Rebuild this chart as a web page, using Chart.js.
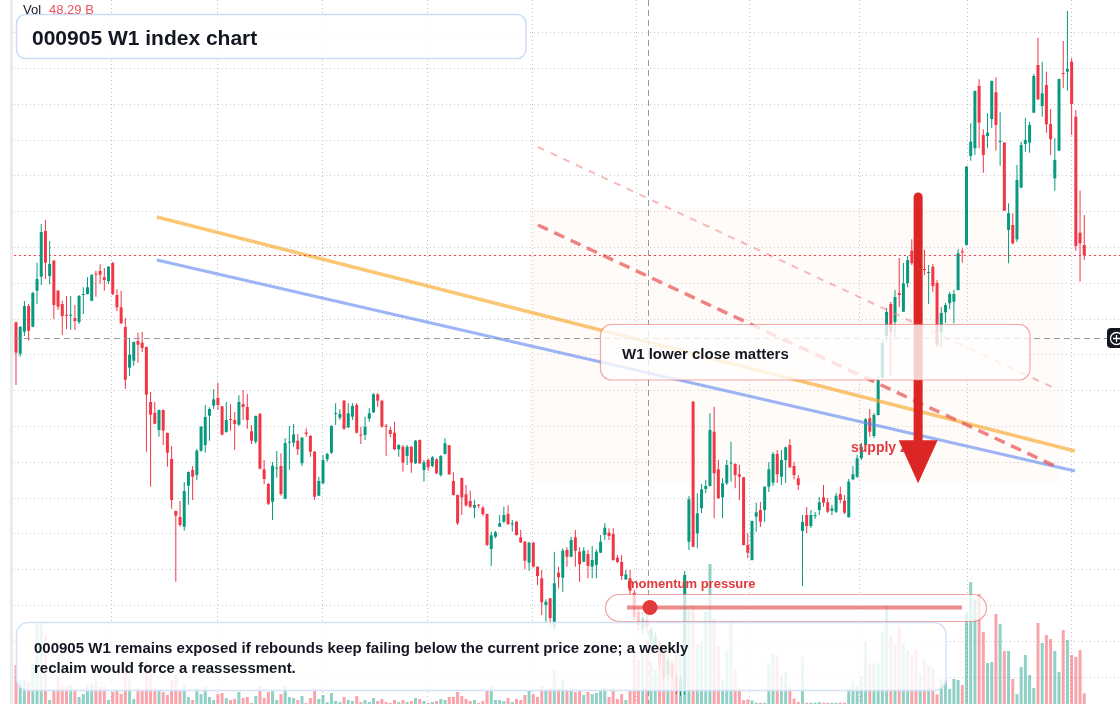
<!DOCTYPE html>
<html lang="en">
<head>
<meta charset="utf-8">
<title>000905 W1 index chart</title>
<script src="https://cdn.jsdelivr.net/npm/chart.js@4.4.1/dist/chart.umd.min.js"></script>
<style>
html,body{margin:0;padding:0;background:#ffffff;overflow:hidden;}
#chart{display:block;}
</style>
</head>
<body>
<canvas id="chart" width="1120" height="704"></canvas>
<script>
// ---------- DATA (weekly candles, index 0 = oldest week) ----------
const openP = [
5777,5463,5683,5940,5733,6093,6233,6690,6240,6393,
6093,5960,5850,5843,5820,5780,6050,6060,5993,6260,
6290,6227,6187,6370,6050,5927,5730,5323,5393,5590,
5573,5530,4980,4873,4700,4900,4670,4410,3890,3830,
3733,4143,4300,4250,4493,4550,4843,4943,5020,4937,
4680,4810,4800,4753,4960,4930,4687,4583,4860,4307,
4160,3983,4313,4340,4013,4573,4573,4593,4367,4675,
4640,4483,4043,4167,4407,4473,4860,4823,4993,4727,
4833,4950,4650,4650,4813,4877,5057,4993,4740,4700,
4673,4507,4533,4440,4533,4367,4600,4300,4400,4340,
4407,4250,4460,4547,4190,4050,4220,4057,3990,3923,
3950,3923,3860,3510,3633,3733,3783,3860,3757,3783,
3627,3583,3373,3573,3333,3217,2950,3017,2720,3273,
3223,3500,3433,3627,3483,3383,3460,3333,3350,3473,
3650,3673,3660,3423,3380,3207,3217,3070,2880,2710,
2800,2590,2540,2570,2470,2260,2370,2230,2090,2100,
3583,4983,3667,3917,4110,4140,4683,4307,4027,4167,
4365,4360,4257,4227,3550,3400,3833,3900,3900,4133,
4173,4460,4233,4400,4550,4340,4217,3690,3850,3740,
3840,3900,4027,3977,3893,3883,4060,3993,3827,4207,
4233,4417,4550,4817,4640,4850,5230,5640,5960,5780,
6070,5883,6167,6493,6380,5940,6305,6270,6333,6170,
5680,5877,5967,5983,6100,6480,6550,7440,7517,8140,
7650,7640,7810,8077,7580,7573,6700,6750,6607,7123,
7560,7573,7873,8350,7940,8150,7760,7217,7493,8265,
8283,8383,7833,6673,6550];
const highP = [
5783,5740,5990,5960,6083,6373,6760,6800,6590,6400,
6100,5993,6040,6040,5950,6050,6127,6227,6260,6293,
6357,6320,6340,6380,6107,6093,5820,5623,5585,5673,
5680,5535,5080,4980,4905,4905,4675,4540,3895,3990,
4180,4285,4340,4510,4740,4950,4927,5107,5173,4940,
4980,4960,4880,5047,5100,5060,4747,4845,4873,4400,
4170,4380,4490,4467,4617,4740,4760,4660,4630,4717,
4650,4490,4233,4450,4473,4750,4967,4907,5000,4967,
4967,4967,4733,4833,4917,5067,5067,5000,4760,4733,
4783,4557,4550,4550,4540,4600,4605,4400,4417,4440,
4417,4450,4617,4550,4277,4055,4225,4150,4093,4000,
3960,3940,3865,3683,3690,3850,3933,3947,3800,3790,
3700,3590,3580,3580,3335,3300,3007,3020,3483,3333,
3517,3527,3633,3700,3527,3527,3500,3540,3507,3650,
3767,3717,3717,3450,3450,3300,3300,3100,2940,2880,
2850,2740,2680,2600,2500,2450,2400,2280,2250,3290,
4040,4990,4067,4160,4200,4867,4933,4400,4217,4400,
4583,4367,4350,4230,3667,3795,3973,3980,4135,4380,
4480,4500,4500,4533,4607,4383,4250,3850,3930,3900,
3880,4030,4150,4020,3950,4070,4133,4050,4210,4340,
4450,4570,4820,4910,4870,5240,5600,5920,5980,6100,
6420,6370,6440,6607,6450,6220,6500,6350,6360,6200,
5930,5970,6083,6100,6507,6517,7340,7767,8095,8207,
7707,7867,8195,8227,7877,7580,6967,6867,7350,7583,
7823,7783,8260,8623,8383,8283,7910,7617,8215,8590,
8890,8417,7900,7093,6850];
const lowP = [
5150,5433,5640,5593,5728,5960,6150,6210,6157,5810,
5900,5650,5707,5700,5700,5760,5860,6055,5988,6033,
6163,6093,6160,6050,5890,5760,5110,5240,5343,5373,
5480,4483,4133,4758,4633,4550,4333,3913,3183,3733,
3693,3953,4000,4197,4483,4473,4593,4910,4900,4648,
4673,4693,4500,4743,4800,4713,4560,4563,4308,4157,
3950,3800,4223,4043,4008,4300,4533,4450,4340,4633,
4433,4000,4040,4160,4383,4460,4750,4800,4700,4720,
4800,4665,4560,4600,4783,4870,4933,4725,4440,4627,
4500,4433,4283,4350,4273,4360,4360,4183,4293,4327,
4257,4233,4455,4250,4045,3750,3850,3933,3917,3817,
3917,3840,3540,3340,3617,3730,3767,3750,3683,3645,
3570,3307,3293,3327,3150,2850,2783,2740,2700,3117,
3083,3333,3427,3333,3183,3378,3217,3217,3217,3470,
3600,3600,3393,3367,3200,3200,3060,2800,2700,2660,
2670,2550,2500,2320,2180,2210,2160,2060,2040,2050,
3500,3525,3517,3870,4067,4135,3817,4010,3817,4150,
4183,4117,4000,3545,3417,3395,3683,3730,3783,4080,
4140,4170,4150,4170,4320,4207,4100,3140,3670,3720,
3810,3850,3933,3870,3850,3870,3967,3860,3825,4200,
4220,4400,4545,4633,4620,4845,5200,5580,5250,5630,
5930,5880,6127,6350,5950,5900,6250,5960,6083,5530,
5530,5770,5907,5767,6095,6373,6545,7393,7450,7517,
7273,7517,7723,7493,7343,6890,6367,6557,6583,7120,
7483,7473,7870,8000,7833,7673,7450,7093,7490,8117,
8093,7650,6493,6183,6400];
const closeP = [
5473,5730,5940,5693,6070,6210,6680,6373,6360,5950,
5933,5840,5843,5850,5790,6040,6060,6127,6250,6253,
6253,6200,6333,6060,5927,5767,5203,5453,5580,5553,
5520,5053,4853,4763,4900,4693,4473,4000,3843,3750,
4090,4280,4233,4493,4733,4830,4910,5007,4950,4653,
4800,4800,4760,4980,4930,4800,4593,4840,4313,4210,
3963,4343,4323,4060,4570,4580,4657,4507,4623,4660,
4483,4033,4190,4400,4460,4740,4867,4860,4713,4867,
4940,4673,4643,4733,4867,5057,4993,4733,4733,4660,
4507,4550,4373,4533,4373,4593,4367,4377,4327,4427,
4267,4440,4567,4257,4050,3767,4027,3947,3933,3950,
3943,3860,3550,3647,3677,3767,3850,3760,3763,3650,
3577,3393,3573,3333,3240,2977,2983,2820,3167,3227,
3493,3433,3600,3493,3357,3493,3340,3400,3483,3583,
3723,3640,3400,3380,3240,3257,3093,2830,2750,2820,
2730,2710,2630,2370,2230,2400,2230,2110,2200,3250,
4007,3533,3867,4107,4140,4700,4267,4017,4167,4350,
4370,4250,4233,3550,3473,3790,3877,3783,4133,4307,
4460,4257,4400,4527,4327,4250,4150,3780,3740,3850,
3845,3977,3973,3883,3917,4043,4000,3873,4183,4257,
4417,4533,4807,4683,4850,5200,5570,5880,5680,6030,
6050,6167,6400,6367,6000,6180,6300,6275,6140,5550,
5870,5950,6060,6060,6467,6475,7333,7583,8090,7773,
7450,7673,8190,7750,7585,6893,6867,6567,7200,7550,
7600,7750,8240,8007,8067,7757,7607,7400,8210,8260,
8310,7960,6540,6567,6447];
// weekly volume, billions
const volumeB = [
29.4,18.1,18.1,16.6,30.2,60.4,61.1,52.1,3.0,11.3,
21.1,14.3,13.6,14.3,11.3,5.3,7.5,14.3,15.1,17.4,
12.8,12.8,3.0,9.1,10.6,7.5,27.2,17.4,3.8,12.1,
10.6,33.2,27.2,12.1,10.6,9.1,6.8,18.1,21.9,10.6,
14.3,5.3,3.0,12.1,7.5,13.6,5.3,3.0,7.5,8.3,
4.5,3.0,3.8,9.1,4.5,5.3,0.8,6.0,13.6,4.5,
9.1,10.6,3.0,7.5,13.6,5.3,4.5,3.0,6.0,0.8,
4.5,12.1,3.8,6.8,1.5,8.3,2.3,1.5,5.3,3.0,
2.3,6.0,1.5,3.0,1.5,4.5,2.3,3.8,1.5,0.8,
3.0,1.5,3.0,1.5,2.3,4.5,3.8,2.3,0.8,1.5,
2.3,3.8,3.0,5.3,5.3,9.1,6.0,3.8,2.3,3.0,
0.8,2.3,10.6,13.6,3.0,3.0,2.3,4.5,1.5,3.8,
3.0,6.8,10.6,7.5,5.3,13.6,10.6,12.1,25.7,12.1,
18.1,10.6,12.1,9.1,10.6,6.8,9.1,7.5,8.3,10.6,
12.1,5.3,12.1,3.8,7.5,3.0,10.6,40.7,33.2,37.0,
48.29,31.7,25.7,40.7,44.5,33.2,29.4,40.7,37.0,74.7,
70.9,74.7,45.3,47.5,69.4,105.6,64.1,43.8,18.1,40.0,
62.6,26.4,12.8,3.0,3.4,2.6,1.0,1.0,1.0,30.9,
37.7,36.4,21.5,23.8,12.9,4.1,1.5,35.5,1.0,1.0,
1.0,1.5,1.0,1.0,1.0,1.0,1.0,1.0,12.4,17.1,
13.6,20.4,47.5,30.6,30.6,30.6,54.8,74.8,52.1,45.0,
59.3,46.3,40.7,37.0,41.5,22.9,33.2,28.9,26.8,7.2,
19.0,17.7,11.3,18.9,18.1,14.3,69.4,92.0,78.5,83.0,
54.3,30.9,31.7,67.9,60.4,40.0,40.0,18.9,7.5,27.9,
37.0,21.9,12.1,61.1,46.0,52.1,49.0,40.0,24.1,55.8,
48.3,37.0,35.5,40.7,8.0];

// grid positions (week index of vertical lines, price levels of horizontal lines)
const gridWeeks = [22.8, 47.8, 72.9, 97.9, 122.8, 147.6, 174.4, 200.5, 226.2, 250.9];
const gridPrices = [8673, 8315, 7957, 7599, 7241, 6883, 6525, 6167, 5809, 5451, 5093, 4735, 4377, 4019, 3661, 3303, 2945, 2587, 2229];

// annotations in data space: [week index, price]
const trendLines = [
  {name: 'resistance', from: [33.5, 6830], to: [251.8, 4490]},
  {name: 'support',    from: [33.5, 6400], to: [251.8, 4290]},
  {name: 'projection', from: [124.1, 6750], to: [247.0, 4340]},
  {name: 'channel',    from: [124.1, 7530], to: [246.3, 5130]}
];
const zoneSpec = {i0: 121.9, i1: 249.0, pTop: 6920, pBottom: 4180};
const arrowSpec = {i: 214.5, pStart: 7030, pTip: 4167};
const crossIndex = 150;
const crossPrice = 5620;

const titleText = '000905 W1 index chart';
const noteLines = ['000905 W1 remains exposed if rebounds keep failing below the current price zone; a weekly', 'reclaim would force a reassessment.'];
const calloutText = 'W1 lower close matters';
const zoneLabel = 'supply zone';
const meterLabel = 'momentum pressure';

// ---------- STYLE ----------
const FONT = '"Liberation Sans", Arial, Helvetica, sans-serif';
const GREEN = '#089981', RED = '#f23645';
const GREEN_V = 'rgba(8,153,129,0.45)', RED_V = 'rgba(242,54,69,0.45)';
const GRID = 'rgba(140,140,140,0.5)';
const lineStyles = {
  resistance: {color: 'rgba(247,172,52,0.68)', width: 3.5, dash: []},
  support:    {color: 'rgba(96,136,240,0.62)', width: 3, dash: []},
  projection: {color: 'rgba(232,84,84,0.72)', width: 3.5, dash: [11, 7]},
  channel:    {color: 'rgba(240,130,130,0.55)', width: 2, dash: [7, 7]}
};

const N = openP.length;
const idx = Array.from({length: N}, (_, i) => i);
const up = idx.map(i => closeP[i] >= openP[i]);

function rrect(ctx, x, y, w, h, r) {
  ctx.beginPath();
  ctx.moveTo(x + r, y);
  ctx.lineTo(x + w - r, y);
  ctx.arcTo(x + w, y, x + w, y + r, r);
  ctx.lineTo(x + w, y + h - r);
  ctx.arcTo(x + w, y + h, x + w - r, y + h, r);
  ctx.lineTo(x + r, y + h);
  ctx.arcTo(x, y + h, x, y + h - r, r);
  ctx.lineTo(x, y + r);
  ctx.arcTo(x, y, x + r, y, r);
  ctx.closePath();
}

const overlay = {
  id: 'overlay',
  beforeDatasetsDraw(chart) {
    const ctx = chart.ctx;
    const X = v => chart.scales.x.getPixelForValue(v);
    const Y = v => chart.scales.y.getPixelForValue(v);
    const x0 = X(zoneSpec.i0), x1 = X(zoneSpec.i1), y0 = Y(zoneSpec.pTop), y1 = Y(zoneSpec.pBottom);
    ctx.save();
    rrect(ctx, x0, y0, x1 - x0, y1 - y0, 12);
    ctx.fillStyle = 'rgba(255,232,218,0.16)';
    ctx.fill();
    ctx.restore();
  },
  afterDatasetsDraw(chart) {
    const ctx = chart.ctx;
    const area = chart.chartArea;
    const X = v => chart.scales.x.getPixelForValue(v);
    const Y = v => chart.scales.y.getPixelForValue(v);
    ctx.save();

    // trend lines
    trendLines.forEach(t => {
      const s = lineStyles[t.name];
      ctx.beginPath();
      ctx.setLineDash(s.dash);
      ctx.strokeStyle = s.color;
      ctx.lineWidth = s.width;
      ctx.moveTo(X(t.from[0]), Y(t.from[1]));
      ctx.lineTo(X(t.to[0]), Y(t.to[1]));
      ctx.stroke();
    });

    // last price line
    const yLast = Y(closeP[N - 1]);
    ctx.beginPath();
    ctx.setLineDash([2, 3]);
    ctx.strokeStyle = RED;
    ctx.lineWidth = 1;
    ctx.moveTo(area.left, Math.round(yLast) + 0.5);
    ctx.lineTo(area.right, Math.round(yLast) + 0.5);
    ctx.stroke();

    // crosshair
    const cx = Math.round(X(crossIndex)) + 1.5, cy = Math.round(Y(crossPrice)) + 0.5;
    ctx.beginPath();
    ctx.setLineDash([6, 4]);
    ctx.strokeStyle = '#9598a1';
    ctx.lineWidth = 1;
    ctx.moveTo(area.left, cy); ctx.lineTo(1107, cy);
    ctx.moveTo(cx, area.top); ctx.lineTo(cx, area.bottom);
    ctx.stroke();
    ctx.setLineDash([]);

    // supply zone label
    ctx.fillStyle = '#e0393e';
    ctx.font = 'bold 14px ' + FONT;
    ctx.textBaseline = 'alphabetic';
    ctx.fillText(zoneLabel, 851, 452);

    // arrow
    const ax = X(arrowSpec.i), ayTop = Y(arrowSpec.pStart), ayTip = Y(arrowSpec.pTip);
    const headLen = 43, headHalf = 19.5;
    ctx.strokeStyle = '#dc2626';
    ctx.fillStyle = '#dc2626';
    ctx.lineWidth = 9;
    ctx.lineCap = 'round';
    ctx.beginPath();
    ctx.moveTo(ax, ayTop);
    ctx.lineTo(ax, ayTip - headLen + 4);
    ctx.stroke();
    ctx.lineCap = 'butt';
    ctx.beginPath();
    ctx.moveTo(ax - headHalf, ayTip - headLen);
    ctx.lineTo(ax + headHalf, ayTip - headLen);
    ctx.lineTo(ax, ayTip);
    ctx.closePath();
    ctx.fill();

    // callout box
    rrect(ctx, 600.5, 324.5, 429.5, 55.5, 11);
    ctx.fillStyle = 'rgba(255,255,255,0.78)';
    ctx.fill();
    ctx.strokeStyle = 'rgba(236,110,110,0.6)';
    ctx.lineWidth = 1.2;
    ctx.stroke();
    ctx.fillStyle = '#131722';
    ctx.font = 'bold 15px ' + FONT;
    ctx.fillText(calloutText, 622, 359);

    // momentum meter
    ctx.fillStyle = '#e0393e';
    ctx.font = 'bold 13px ' + FONT;
    ctx.fillText(meterLabel, 627, 587.5);
    rrect(ctx, 605.5, 594.5, 381, 27, 13.5);
    ctx.fillStyle = 'rgba(255,255,255,0.75)';
    ctx.fill();
    ctx.strokeStyle = 'rgba(232,100,100,0.6)';
    ctx.lineWidth = 1.2;
    ctx.stroke();
    ctx.beginPath();
    ctx.strokeStyle = 'rgba(228,70,70,0.62)';
    ctx.lineWidth = 4;
    ctx.moveTo(627, 607.5); ctx.lineTo(962, 607.5);
    ctx.stroke();
    ctx.beginPath();
    ctx.arc(650, 607.5, 7.5, 0, Math.PI * 2);
    ctx.fillStyle = '#e03a3a';
    ctx.fill();

    // note box
    rrect(ctx, 16.5, 622.5, 929.5, 68, 12);
    ctx.fillStyle = 'rgba(255,255,255,0.84)';
    ctx.fill();
    ctx.strokeStyle = '#d3e2f8';
    ctx.lineWidth = 1.5;
    ctx.stroke();
    ctx.fillStyle = '#131722';
    ctx.font = 'bold 15px ' + FONT;
    ctx.fillText(noteLines[0], 34, 653);
    ctx.fillText(noteLines[1], 34, 673);

    // title box
    rrect(ctx, 16.5, 14.5, 509.5, 44, 9);
    ctx.fillStyle = 'rgba(255,255,255,0.95)';
    ctx.fill();
    ctx.strokeStyle = '#cddcf6';
    ctx.lineWidth = 1.5;
    ctx.stroke();
    ctx.fillStyle = '#131722';
    ctx.font = 'bold 21px ' + FONT;
    ctx.fillText(titleText, 32, 44.5);

    // volume legend
    ctx.font = '13px ' + FONT;
    ctx.fillStyle = '#131722';
    ctx.fillText('Vol', 23, 13.5);
    ctx.fillStyle = up[crossIndex] ? GREEN : '#f0525c';
    ctx.fillText(volumeB[crossIndex].toFixed(2) + ' B', 49, 13.5);

    // crosshair price tag (cut by right edge)
    rrect(ctx, 1107, cy - 10.5, 24, 20, 4);
    ctx.fillStyle = '#131722';
    ctx.fill();
    ctx.beginPath();
    ctx.arc(1116.5, cy, 6, 0, Math.PI * 2);
    ctx.strokeStyle = '#ffffff';
    ctx.lineWidth = 1.3;
    ctx.stroke();
    ctx.beginPath();
    ctx.moveTo(1113, cy); ctx.lineTo(1120, cy);
    ctx.moveTo(1116.5, cy - 3.5); ctx.lineTo(1116.5, cy + 3.5);
    ctx.stroke();

    // left edge band
    ctx.fillStyle = '#ebebeb';
    ctx.fillRect(10, 0, 3, 704);
    ctx.restore();
  }
};

const chart = new Chart(document.getElementById('chart'), {
  type: 'bar',
  data: {
    datasets: [
      {
        label: 'wick',
        data: idx.map(i => ({x: i, y: [lowP[i], highP[i]]})),
        backgroundColor: idx.map(i => up[i] ? GREEN : RED),
        categoryPercentage: 1, barPercentage: 1, maxBarThickness: 1,
        grouped: false, inflateAmount: 0, order: 2, yAxisID: 'y'
      },
      {
        label: 'body',
        data: idx.map(i => ({x: i, y: [openP[i], closeP[i]]})),
        backgroundColor: idx.map(i => up[i] ? GREEN : RED),
        categoryPercentage: 1, barPercentage: 1, maxBarThickness: 3,
        minBarLength: 1, grouped: false, inflateAmount: 0, order: 1, yAxisID: 'y'
      },
      {
        label: 'volume',
        data: idx.map(i => ({x: i, y: volumeB[i]})),
        backgroundColor: idx.map(i => up[i] ? GREEN_V : RED_V),
        categoryPercentage: 1, barPercentage: 1, maxBarThickness: 3,
        grouped: false, inflateAmount: 0, order: 3, yAxisID: 'y2'
      }
    ]
  },
  options: {
    responsive: false,
    animation: false,
    devicePixelRatio: 1,
    events: [],
    layout: {padding: {left: 13.9, right: 0, top: 0, bottom: 0}},
    plugins: {legend: {display: false}, tooltip: {enabled: false}},
    scales: {
      x: {
        type: 'linear', min: -0.5, max: 262.5, offset: false,
        ticks: {display: false},
        grid: {color: GRID, drawTicks: false, lineWidth: 1, offset: false},
        border: {display: false, dash: [1, 3]},
        afterBuildTicks: s => { s.ticks = gridWeeks.map(v => ({value: v})); }
      },
      y: {
        type: 'linear', position: 'left', min: 1960, max: 9000,
        ticks: {display: false},
        grid: {color: GRID, drawTicks: false, lineWidth: 1, offset: false},
        border: {display: false, dash: [1, 3]},
        afterBuildTicks: s => { s.ticks = gridPrices.map(v => ({value: v})); }
      },
      y2: {type: 'linear', display: false, min: 0, max: 531.2}
    }
  },
  plugins: [overlay]
});
</script>
</body>
</html>
